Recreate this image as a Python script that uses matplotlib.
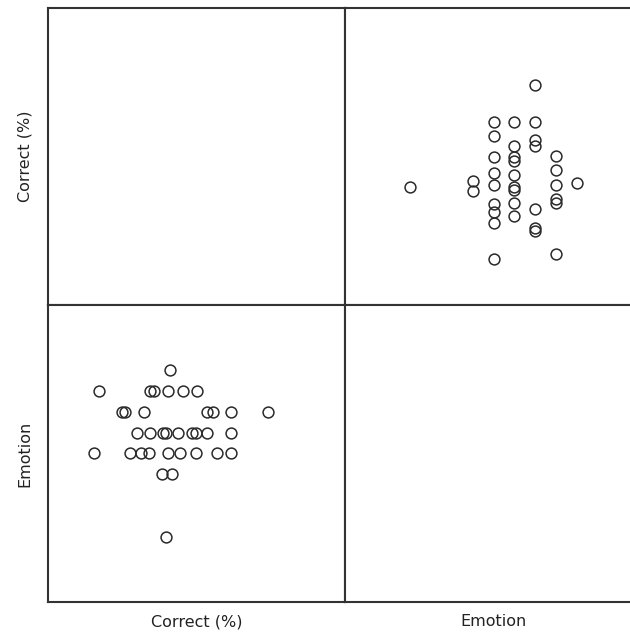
import matplotlib
matplotlib.use("Agg")
import matplotlib.pyplot as plt
import numpy as np

# Data: Emotion (discrete score) and Correct (%) per participant
emotion = [10,
           9, 9, 9, 9, 9, 9,
           8, 8, 8, 8, 8, 8, 8,
           7, 7, 7, 7, 7, 7, 7, 7, 7,
           6, 6, 6, 6, 6, 6, 6, 6, 6,
           5, 5,
           2]
correct = [64.6,
           50.4, 60.6, 61.4, 64.3, 67.2, 70.0,
           54.9, 55.6, 59.4, 72.2, 73.3, 77.0, 84.5,
           57.9, 60.6, 63.2, 63.8, 66.3, 69.0, 69.8, 72.1, 77.0,
           49.2, 56.6, 58.7, 60.5, 64.3, 66.7, 69.9, 74.1, 77.0,
           63.0, 65.0,
           63.8]
variables = ["Correct (%)", "Emotion"]
data = {"Correct (%)": correct, "Emotion": emotion}
limits = {"Correct (%)": (40.0, 100.0), "Emotion": (-1.1, 13.1)}

W, H = 630, 637
fig = plt.figure(figsize=(W / 100, H / 100), dpi=100)
fig.patch.set_facecolor("white")

x0 = 48 / W
cw = 297 / W
ch = 297 / H
y_bottom = 1 - 602 / H

edge = "#333333"
for i, yv in enumerate(variables):        # row
    for j, xv in enumerate(variables):    # column
        left = x0 + j * cw
        bottom = y_bottom + (1 - i) * ch
        ax = fig.add_axes([left, bottom, cw, ch])
        ax.set_xlim(*limits[xv])
        ax.set_ylim(*limits[yv])
        ax.set_xticks([])
        ax.set_yticks([])
        for s in ax.spines.values():
            s.set_linewidth(1.5)
            s.set_color(edge)
        if i != j:
            ax.plot(data[xv], data[yv], linestyle="none", marker="o",
                    markersize=7.8, markerfacecolor="none",
                    markeredgecolor="#2a2a2a", markeredgewidth=1.1)
        if j == 0:
            ax.set_ylabel(yv, fontsize=11.5, color="#222222", labelpad=11)
        if i == 1:
            ax.set_xlabel(xv, fontsize=11.5, color="#222222", labelpad=9)

fig.savefig("out.png", dpi=100, facecolor="white")
